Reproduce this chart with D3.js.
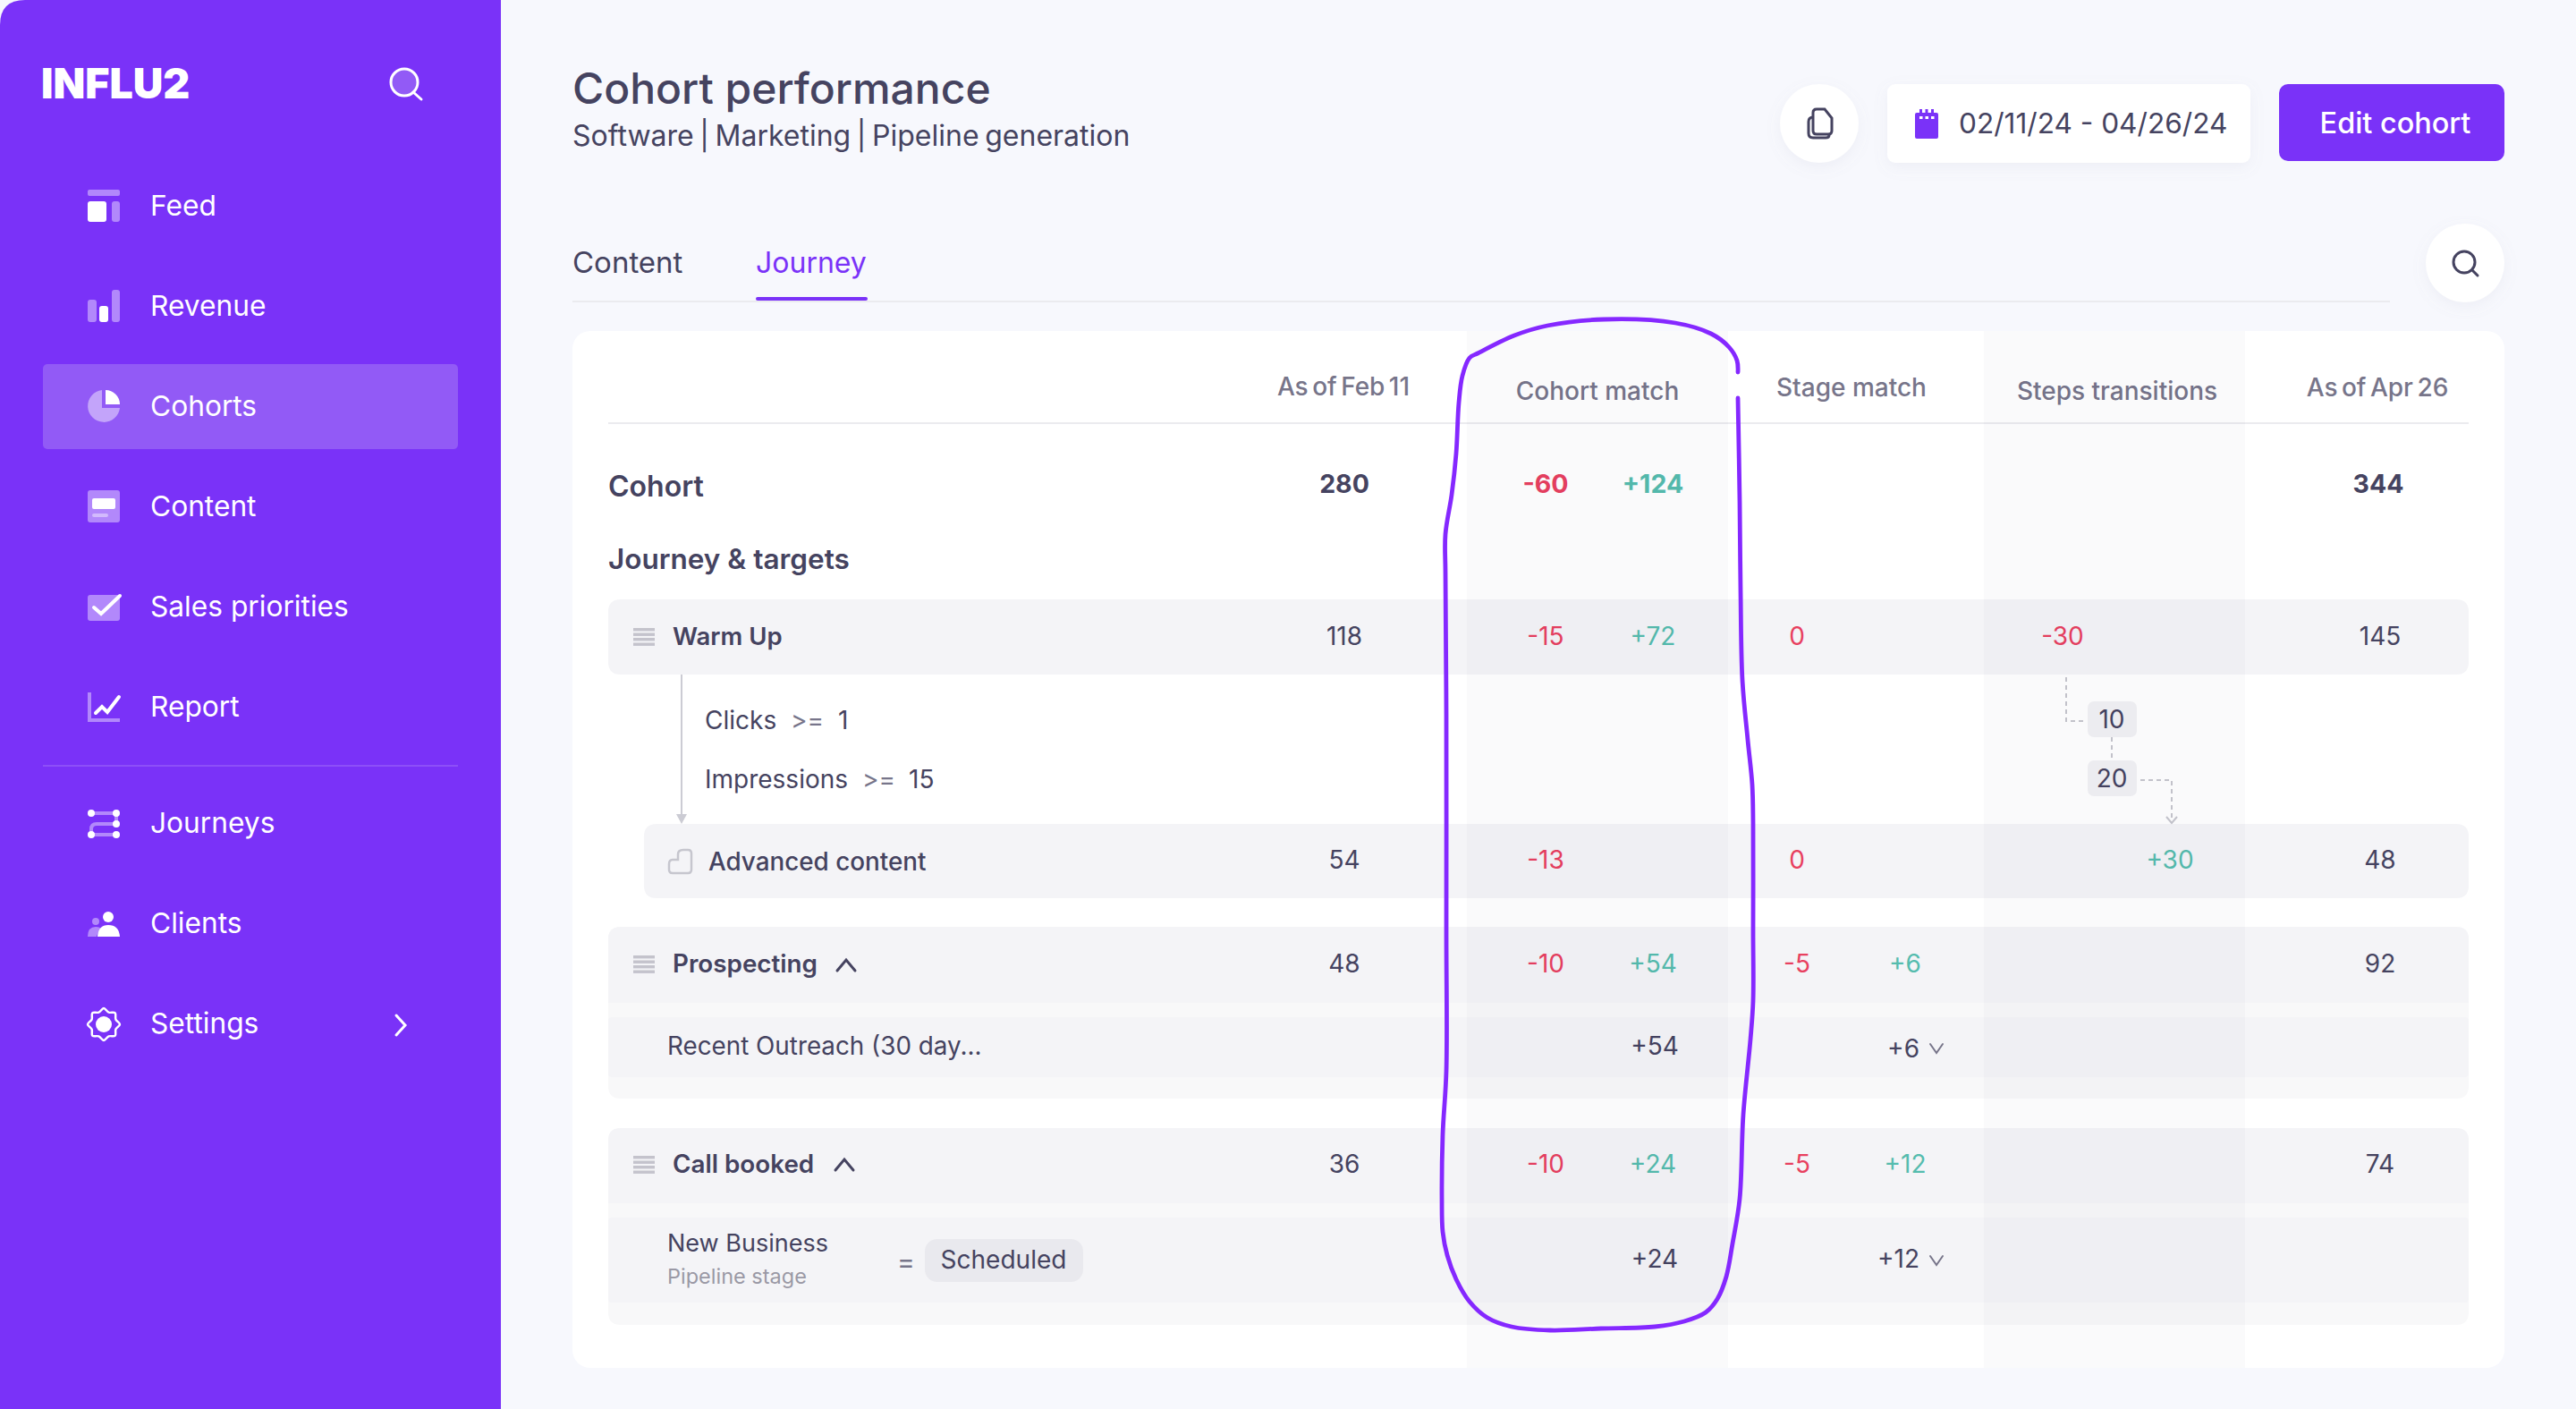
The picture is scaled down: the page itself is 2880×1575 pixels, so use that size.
<!DOCTYPE html>
<html lang="en">
<head>
<meta charset="UTF-8">
<title>Cohort performance</title>
<script src="https://d3js.org/d3.v7.min.js"></script>
<style>
    html, body { margin: 0; padding: 0; background: #f7f8fd; }
    svg { display: block; font-family: Inter, sans-serif; }
    text { white-space: pre; }
</style>
</head>
<body>
<div id="chart"></div>
<script>
// data
const navItems = ["Feed", "Revenue", "Cohorts", "Content", "Sales priorities", "Report", "Journeys", "Clients", "Settings"];
const columnTitles = ["As of Feb 11", "Cohort match", "Stage match", "Steps transitions", "As of Apr 26"];
const rowNames = ["Warm Up", "Advanced content", "Prospecting", "Recent Outreach (30 day...", "Call booked", "New Business"];
const asOfFeb = [118, 54, 48, null, 36, null];
const cohortLoss = [-15, -13, -10, null, -10, null];
const cohortGain = [72, null, 54, 54, 24, 24];
const stageLoss = [0, 0, -5, null, -5, null];
const stageGain = [null, null, 6, 6, 12, 12];
const stepsLoss = [-30, null, null, null, null, null];
const stepsGain = [null, 30, null, null, null, null];
const asOfApr = [145, 48, 92, null, 74, null];
const subRows = ["Recent Outreach (30 day...", "New Business"];
const cohortTotals = { feb: 280, loss: -60, gain: 124, apr: 344 };
const stepBadges = [10, 20];

const dark = "#454360", grey = "#77758a", red = "#e8405f", green = "#55bcae", purple = "#7a32f8";

const svg = d3.select("#chart").append("svg").attr("width", 2880).attr("height", 1575);

const txt = (g, s, x, y, size, o = {}) => g.append("text")
    .attr("x", x).attr("y", y).attr("dy", o.dy ?? "0.36em")
    .attr("text-anchor", o.anchor || "start")
    .attr("font-size", size).attr("font-weight", o.weight || 400)
    .attr("word-spacing", o.ws || null)
    .attr("fill", o.fill || dark).text(s);

const line = d3.line();
const curve = d3.line().curve(d3.curveCatmullRom.alpha(0.5));

// top / bottom rounded box
function box(x, y, w, h, rt, rb) {
    return `M${x},${y + rt}Q${x},${y} ${x + rt},${y}H${x + w - rt}Q${x + w},${y} ${x + w},${y + rt}` +
        `V${y + h - rb}Q${x + w},${y + h} ${x + w - rb},${y + h}H${x + rb}Q${x},${y + h} ${x},${y + h - rb}Z`;
}

// ---------- sidebar
const side = svg.append("g");
side.append("path").attr("d", "M0,28Q0,0 28,0H560V1575H0Z").attr("fill", purple);
side.append("rect").attr("x", 48).attr("y", 407).attr("width", 464).attr("height", 95).attr("rx", 5).attr("fill", "#925af6");
side.append("rect").attr("x", 48).attr("y", 855).attr("width", 464).attr("height", 2).attr("fill", "#8d4ff8");
txt(side, "INFLU2", 46, 93, 46.5, { weight: 900, fill: "#fff" });

side.append("circle").attr("cx", 452).attr("cy", 92).attr("r", 15).attr("fill", "#925af6").attr("stroke", "#fff").attr("stroke-width", 3);
side.append("path").attr("d", line([[462, 103], [471, 111]])).attr("stroke", "#fff").attr("stroke-width", 3).attr("stroke-linecap", "round");

const navY = d3.scaleOrdinal(navItems, [230, 342, 454, 566, 678, 790, 920, 1032, 1144]);
side.selectAll("text.nav").data(navItems).enter().append("text")
    .attr("class", "nav")
    .attr("x", 168).attr("y", d => navY(d)).attr("dy", "0.36em")
    .attr("font-size", 31.7).attr("fill", "#fff").text(d => d);

const soft = "rgba(255,255,255,0.42)";
const r = (x, y, w, h, f, rx = 3) => side.append("rect").attr("x", x).attr("y", y).attr("width", w).attr("height", h).attr("rx", rx).attr("fill", f);
// feed
r(98, 212, 36, 7, soft, 2); r(98, 225, 21, 23, "#fff"); r(125, 225, 9, 23, soft);
// revenue
r(98, 335, 10, 25, soft); r(111, 342, 10, 18, "#fff"); r(125, 324, 9, 36, soft);
// cohorts
side.append("path").attr("d", "M114,436A18,18 0 1 0 134,456H114Z").attr("fill", "rgba(255,255,255,0.45)");
side.append("path").attr("d", "M118,436A16,16 0 0 1 134,452H118Z").attr("fill", "#fff");
// content
r(98, 548, 36, 36, soft); r(103, 557, 26, 12, "#fff", 2); r(103, 574, 18, 4, soft, 2);
// sales priorities
r(98, 665, 36, 29, soft);
side.append("path").attr("d", line([[105, 679], [113, 686], [134, 666]])).attr("fill", "none").attr("stroke", "#fff").attr("stroke-width", 4).attr("stroke-linecap", "round");
// report
side.append("path").attr("d", line([[100, 774], [100, 805], [134, 805]])).attr("fill", "none").attr("stroke", soft).attr("stroke-width", 4);
side.append("path").attr("d", line([[107, 797], [114, 790], [120, 796], [133, 779]])).attr("fill", "none").attr("stroke", "#fff").attr("stroke-width", 4).attr("stroke-linecap", "round");
// journeys
side.append("path").attr("d", "M102,909H130V921H108Q102,921 102,927V933H130").attr("fill", "none").attr("stroke", soft).attr("stroke-width", 4);
[[102, 909], [130, 909], [130, 921], [102, 933], [130, 933]].forEach(p => side.append("circle").attr("cx", p[0]).attr("cy", p[1]).attr("r", 4).attr("fill", "#fff"));
// clients
side.append("circle").attr("cx", 107).attr("cy", 1030).attr("r", 4).attr("fill", soft);
side.append("path").attr("d", "M98,1047Q98,1036 107,1036Q112,1036 114,1039Q109,1042 108,1047Z").attr("fill", soft);
side.append("circle").attr("cx", 121).attr("cy", 1025).attr("r", 6).attr("fill", "#fff");
side.append("path").attr("d", "M109,1047Q110,1034 121,1034Q133,1034 134,1047Z").attr("fill", "#fff");
// settings
const gearR = d3.range(16).map(i => [i * Math.PI / 8, i % 2 ? 14.5 : 18]);
side.append("path").attr("transform", "translate(116,1145)")
    .attr("d", d3.lineRadial().curve(d3.curveCardinalClosed)(gearR))
    .attr("fill", "none").attr("stroke", "#fff").attr("stroke-width", 2.5);
side.append("circle").attr("cx", 116).attr("cy", 1145).attr("r", 9).attr("fill", "#fff");
side.append("path").attr("d", line([[443, 1135], [453, 1146], [443, 1157]])).attr("fill", "none").attr("stroke", "#fff").attr("stroke-width", 3).attr("stroke-linecap", "round");

// ---------- page header
const head = svg.append("g");
svg.append("defs").append("filter").attr("id", "soft").attr("x", "-30%").attr("y", "-30%").attr("width", "160%").attr("height", "170%")
    .append("feDropShadow").attr("dx", 0).attr("dy", 5).attr("stdDeviation", 8).attr("flood-color", "#8a88a8").attr("flood-opacity", 0.09);

txt(head, "Cohort performance", 640, 99, 48, { weight: 500 });
txt(head, "Software | Marketing | Pipeline generation", 640, 151, 32, { ws: -2.4 });
txt(head, "Content", 640, 293, 33);
txt(head, "Journey", 845, 293, 32, { fill: purple });
head.append("rect").attr("x", 640).attr("y", 336).attr("width", 2032).attr("height", 2).attr("fill", "#ebebef");
head.append("rect").attr("x", 845).attr("y", 332).attr("width", 125).attr("height", 4).attr("rx", 2).attr("fill", purple);

head.append("circle").attr("cx", 2034).attr("cy", 138).attr("r", 44).attr("fill", "#fff").attr("filter", "url(#soft)");
head.append("path").attr("d", "M2027,129V146Q2027,150 2031,150H2044Q2048,150 2048,146V132L2040,122H2031Q2027,122 2027,126Z").attr("fill", "none").attr("stroke", dark).attr("stroke-width", 3);
head.append("path").attr("d", "M2027,131Q2022,131 2022,136V149Q2022,154 2027,154H2041Q2045,154 2045,151").attr("fill", "none").attr("stroke", dark).attr("stroke-width", 3);

head.append("rect").attr("x", 2110).attr("y", 94).attr("width", 406).attr("height", 88).attr("rx", 9).attr("fill", "#fff").attr("filter", "url(#soft)");
head.append("rect").attr("x", 2141).attr("y", 126).attr("width", 26).attr("height", 29).attr("rx", 2).attr("fill", purple);
[2146, 2152.5, 2159].forEach(x => {
    head.append("rect").attr("x", x).attr("y", 122).attr("width", 3).attr("height", 6).attr("fill", purple);
    head.append("rect").attr("x", x).attr("y", 130).attr("width", 3.5).attr("height", 3).attr("fill", "#fff");
});
txt(head, "02/11/24 - 04/26/24", 2190, 138, 31.6);

head.append("rect").attr("x", 2548).attr("y", 94).attr("width", 252).attr("height", 86).attr("rx", 10).attr("fill", purple);
txt(head, "Edit cohort", 2678, 137, 32.4, { anchor: "middle", weight: 500, fill: "#fff" });

// ---------- table card
const card = svg.append("g");
card.append("rect").attr("x", 640).attr("y", 370).attr("width", 2160).attr("height", 1159).attr("rx", 20).attr("fill", "#fff");
card.append("rect").attr("x", 680).attr("y", 472).attr("width", 2080).attr("height", 2).attr("fill", "#ebebef");

// group panels behind the rows
const groupFill = "#f8f8f9", rowFill = "#f4f4f7";
card.append("path").attr("d", box(680, 1036, 2080, 192, 14, 14)).attr("fill", groupFill);
card.append("path").attr("d", box(680, 1261, 2080, 220, 14, 14)).attr("fill", groupFill);

const rowBands = [
    { x: 680, y: 670, h: 84, rt: 14, rb: 14 },
    { x: 720, y: 921, h: 83, rt: 14, rb: 14 },
    { x: 680, y: 1036, h: 85, rt: 14, rb: 0 },
    { x: 680, y: 1137, h: 67, rt: 4, rb: 4 },
    { x: 680, y: 1261, h: 84, rt: 14, rb: 0 },
    { x: 680, y: 1361, h: 95, rt: 4, rb: 4 }
];
card.selectAll("path.row").data(rowBands).enter().append("path").attr("class", "row")
    .attr("d", d => box(d.x, d.y, 2760 - d.x, d.h, d.rt, d.rb)).attr("fill", rowFill);

// column scale and row scale
const colKeys = ["feb", "cohortLoss", "cohortGain", "stageLoss", "stageGain", "stepsLoss", "stepsGain", "apr"];
const x = d3.scaleOrdinal(colKeys, [1503, 1728, 1848, 2009, 2130, 2306, 2426, 2661]);
const y = d3.scaleOrdinal(rowNames, [711, 961, 1077, 1169, 1301, 1407]);

// row labels
const rowLabelX = d3.scaleOrdinal(rowNames, [752, 792, 752, 746, 752, 746]);
const rowLabelY = d3.scaleOrdinal(rowNames, [711, 963, 1077, 1169, 1301, 1407]);
card.selectAll("text.rowname").data(rowNames.filter(d => d !== "New Business")).enter().append("text")
    .attr("class", "rowname").attr("x", d => rowLabelX(d)).attr("y", d => rowLabelY(d)).attr("dy", "0.36em")
    .attr("font-size", d => d === "Warm Up" ? 27.5 : 27.8).attr("fill", dark)
    .attr("font-weight", d => subRows.includes(d) ? 400 : (d === "Advanced content" ? 500 : 600))
    .text(d => d);
txt(card, "New Business", 746, 1389, 27);
txt(card, "Pipeline stage", 746, 1427, 23.5, { fill: "#9a99a5" });
txt(card, "=", 1003, 1410, 30, { fill: grey });
card.append("rect").attr("x", 1034).attr("y", 1385).attr("width", 177).attr("height", 48).attr("rx", 14).attr("fill", "#e9e9ee");
txt(card, "Scheduled", 1122, 1408, 28, { anchor: "middle" });

txt(card, "Cohort", 680, 543, 32, { weight: 600 });
txt(card, "Journey & targets", 680, 625, 31.5, { weight: 600 });
txt(card, "Clicks", 788, 805, 28);
txt(card, ">=", 884, 805, 28, { fill: grey });
txt(card, "1", 937, 805, 28);
txt(card, "Impressions", 788, 871, 28);
txt(card, ">=", 964, 871, 28, { fill: grey });
txt(card, "15", 1016, 871, 28);

// header titles
const titleX = d3.scaleOrdinal(columnTitles, [1502, 1786, 2070, 2367, 2658]);
const titleY = d3.scaleOrdinal(columnTitles, [432, 437, 433, 437, 433]);
card.selectAll("text.title").data(columnTitles).enter().append("text")
    .attr("class", "title").attr("text-anchor", "middle")
    .attr("x", d => titleX(d)).attr("y", d => titleY(d)).attr("dy", "0.36em")
    .attr("word-spacing", d => d.startsWith("As of") ? -3 : null)
    .attr("font-size", 28).attr("font-weight", 500).attr("fill", grey).text(d => d);

// totals
const signed = v => v > 0 ? "+" + v : String(v);
txt(card, cohortTotals.feb, x("feb"), 541, 28.5, { anchor: "middle", weight: 700 });
txt(card, signed(cohortTotals.loss), x("cohortLoss"), 541, 28.5, { anchor: "middle", weight: 700, fill: red });
txt(card, signed(cohortTotals.gain), x("cohortGain"), 541, 28.5, { anchor: "middle", weight: 700, fill: green });
txt(card, cohortTotals.apr, x("apr") - 2, 541, 28.5, { anchor: "middle", weight: 700 });

// value cells
const series = [
    { key: "feb", values: asOfFeb, plain: true },
    { key: "cohortLoss", values: cohortLoss, fill: red },
    { key: "cohortGain", values: cohortGain, fill: green },
    { key: "stageLoss", values: stageLoss, fill: red },
    { key: "stageGain", values: stageGain, fill: green },
    { key: "stepsLoss", values: stepsLoss, fill: red },
    { key: "stepsGain", values: stepsGain, fill: green },
    { key: "apr", values: asOfApr, plain: true }
];
series.forEach(s => {
    const cells = rowNames.map((name, i) => ({ name, v: s.values[i] })).filter(d => d.v !== null);
    const sub = d => subRows.includes(d.name);
    card.selectAll(null).data(cells).enter().append("text")
        .attr("text-anchor", d => sub(d) && s.key === "stageGain" ? "end" : "middle")
        .attr("x", d => x(s.key) + (sub(d) ? (s.key === "cohortGain" ? 2 : 16) : 0))
        .attr("y", d => y(d.name) + (sub(d) && s.key === "stageGain" && d.name !== "New Business" ? 3 : 0)).attr("dy", "0.36em")
        .attr("font-size", 28)
        .attr("fill", d => s.plain || sub(d) ? dark : s.fill)
        .text(d => s.plain ? d.v : signed(d.v));
});

// flow between steps
const flow = "#c6c6ce";
card.append("path").attr("d", line([[762, 754], [762, 912]])).attr("stroke", "#ccccd4").attr("stroke-width", 2);
card.append("path").attr("d", "M756,910H768L762,921Z").attr("fill", "#ccccd4");

const badgeY = d3.scaleOrdinal(stepBadges, [804, 870]);
card.selectAll("rect.badge").data(stepBadges).enter().append("rect").attr("class", "badge")
    .attr("x", 2334).attr("y", d => badgeY(d) - 20).attr("width", 55).attr("height", 40).attr("rx", 7).attr("fill", "#f1f1f4");
card.selectAll("text.badge").data(stepBadges).enter().append("text").attr("class", "badge")
    .attr("x", 2361).attr("y", d => badgeY(d)).attr("dy", "0.36em").attr("text-anchor", "middle")
    .attr("font-size", 28).attr("fill", dark).text(d => d);
const dash = (pts, arr) => card.append("path").attr("d", line(pts)).attr("fill", "none").attr("stroke", flow).attr("stroke-width", 2).attr("stroke-dasharray", arr);
dash([[2310, 757], [2310, 806], [2332, 806]], "5 4");
dash([[2361, 824], [2361, 850]], "5 4");
dash([[2393, 872], [2428, 872], [2428, 918]], "5 4");
card.append("path").attr("d", line([[2422, 913], [2428, 920], [2434, 913]])).attr("fill", "none").attr("stroke", flow).attr("stroke-width", 2);

// row icons
[711, 1077, 1301].forEach(cy => {
    [-9, -3.5, 2, 7.5].forEach(d => card.append("rect").attr("x", 708).attr("y", cy + d).attr("width", 24).attr("height", 3.4).attr("fill", "#c4c3cc"));
});
card.append("path").attr("d", "M748,966Q748,961 752,961H758V955Q758,950 764,950H769Q773,950 773,954V972Q773,976 769,976H752Q748,976 748,972Z").attr("fill", "none").attr("stroke", "#c6c6ce").attr("stroke-width", 2.5);

const chev = (cx, cy, w, h, sw, c, up) => card.append("path")
    .attr("d", line([[cx - w, cy + (up ? h : -h)], [cx, cy + (up ? -h : h)], [cx + w, cy + (up ? h : -h)]]))
    .attr("fill", "none").attr("stroke", c).attr("stroke-width", sw).attr("stroke-linecap", "round");
chev(946, 1079, 10, 6, 3, dark, true);
chev(944, 1302, 10, 6, 3, dark, true);
chev(2165, 1172, 7, 5, 2, grey, false);
chev(2165, 1409, 7, 5, 2, grey, false);

// shaded columns sit over the rows
const shaded = [[1640, 292], [2218, 292]];
card.selectAll("rect.shade").data(shaded).enter().append("rect").attr("class", "shade")
    .attr("x", d => d[0]).attr("y", 370).attr("width", d => d[1]).attr("height", 1159)
    .attr("fill", "rgba(20,20,40,0.02)");

// search button
const tools = svg.append("g");
tools.append("circle").attr("cx", 2756).attr("cy", 294).attr("r", 44).attr("fill", "#fff").attr("filter", "url(#soft)");
tools.append("circle").attr("cx", 2755).attr("cy", 293).attr("r", 12).attr("fill", "none").attr("stroke", dark).attr("stroke-width", 3);
tools.append("path").attr("d", line([[2764, 302], [2770, 308]])).attr("stroke", dark).attr("stroke-width", 3).attr("stroke-linecap", "round");

// hand drawn loop around the cohort match column
const loop = [
    [1943, 416], [1942, 403], [1933, 388], [1913, 373], [1873, 361], [1793, 357], [1730, 364], [1693, 375], [1652, 395],
    [1643, 400], [1635, 420], [1631, 450], [1628, 507], [1623, 553], [1616, 597], [1616, 640], [1617, 800], [1617, 1040], [1617, 1197],
    [1613, 1268], [1612, 1340], [1613, 1377], [1618, 1403], [1628, 1430], [1643, 1455], [1663, 1473], [1690, 1483], [1733, 1487],
    [1790, 1485], [1850, 1483], [1883, 1477], [1907, 1467], [1920, 1452], [1930, 1427], [1937, 1390], [1945, 1340], [1949, 1246],
    [1957, 1162], [1960, 1119], [1960, 1040], [1960, 920], [1959, 877], [1954, 827], [1948, 760], [1946, 660], [1945, 560], [1943, 445]
];
svg.append("path").attr("d", curve(loop)).attr("fill", "none").attr("stroke", "#8528ff")
    .attr("stroke-width", 4.8).attr("stroke-linecap", "round").attr("stroke-linejoin", "round");
</script>
</body>
</html>
